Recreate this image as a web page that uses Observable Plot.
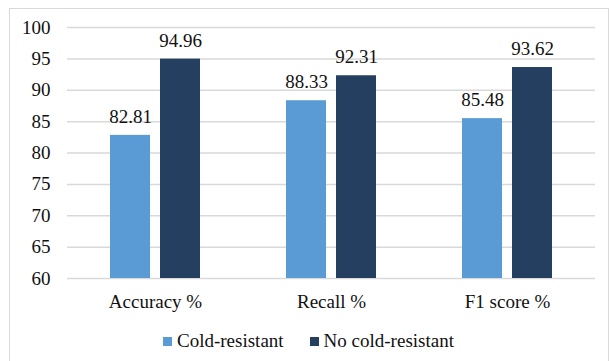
<!DOCTYPE html>
<html>
<head>
<meta charset="utf-8">
<script src="https://cdn.jsdelivr.net/npm/d3@7"></script>
<script src="https://cdn.jsdelivr.net/npm/@observablehq/plot@0.6"></script>
<style>
  html, body { margin: 0; padding: 0; background: #fff; }
  #wrap { position: relative; width: 610px; height: 361px; overflow: hidden; font-family: 'Liberation Serif', 'DejaVu Serif', serif; }
  #frame { position: absolute; left: 9px; top: 8px; width: 600px; height: 360px; border: 1px solid #d9d9d9; box-sizing: border-box; }
  #chart { position: absolute; left: 0; top: 0; }
  #chart svg, #chart svg text { font-family: 'Liberation Serif', 'DejaVu Serif', serif !important; }
  #legend { position: absolute; top: 330px; left: 163px; display: flex; align-items: center; font-size: 19px; color: #111; white-space: nowrap; }
  .sw { display: inline-block; width: 9px; height: 9px; margin-right: 5px; }
</style>
</head>
<body>
<div id="wrap">
  <div id="frame"></div>
  <div id="chart"></div>
  <div id="legend"></div>
</div>
<script>
const metrics = ["Accuracy %", "Recall %", "F1 score %"];
const seriesNames = ["Cold-resistant", "No cold-resistant"];
const coldResistant = [82.81, 88.33, 85.48];
const noColdResistant = [94.96, 92.31, 93.62];
const colors = ["#5b9bd5", "#243f60"];
const yTicks = [60, 65, 70, 75, 80, 85, 90, 95, 100];

const data = [];
metrics.forEach((m, i) => {
  data.push({metric: m, series: seriesNames[0], value: coldResistant[i]});
  data.push({metric: m, series: seriesNames[1], value: noColdResistant[i]});
});

const chart = Plot.plot({
  width: 610,
  height: 320,
  marginTop: 27,
  marginBottom: 42,
  marginLeft: 67,
  marginRight: 15,
  style: {fontFamily: "'Liberation Serif', 'DejaVu Serif', serif", fontSize: "19px", color: "#111", background: "transparent"},
  fx: {domain: metrics, padding: 0, label: null, tickSize: 0, tickPadding: 16},
  x: {domain: seriesNames, paddingInner: 0.2, paddingOuter: 0.86, axis: null},
  y: {domain: [60, 100], ticks: yTicks, label: null, tickSize: 0, tickPadding: 17},
  color: {domain: seriesNames, range: colors},
  marks: [
    Plot.gridY(yTicks, {stroke: "#d9d9d9", strokeOpacity: 1, strokeWidth: 1.5, facet: "exclude"}),
    Plot.barY(data, {fx: "metric", x: "series", y1: 60, y2: "value", fill: "series"}),
    Plot.text(data, {fx: "metric", x: "series", y: "value", text: d => d.value.toFixed(2), dy: -18.5, fill: "#111", fontSize: 19})
  ]
});
document.getElementById("chart").appendChild(chart);

const legend = document.getElementById("legend");
seriesNames.forEach((s, i) => {
  const item = document.createElement("span");
  item.style.display = "inline-flex";
  item.style.alignItems = "center";
  item.style.marginRight = i === 0 ? "26px" : "0";
  const sw = document.createElement("span");
  sw.className = "sw";
  sw.style.background = colors[i];
  item.appendChild(sw);
  item.appendChild(document.createTextNode(s));
  legend.appendChild(item);
});
</script>
</body>
</html>
